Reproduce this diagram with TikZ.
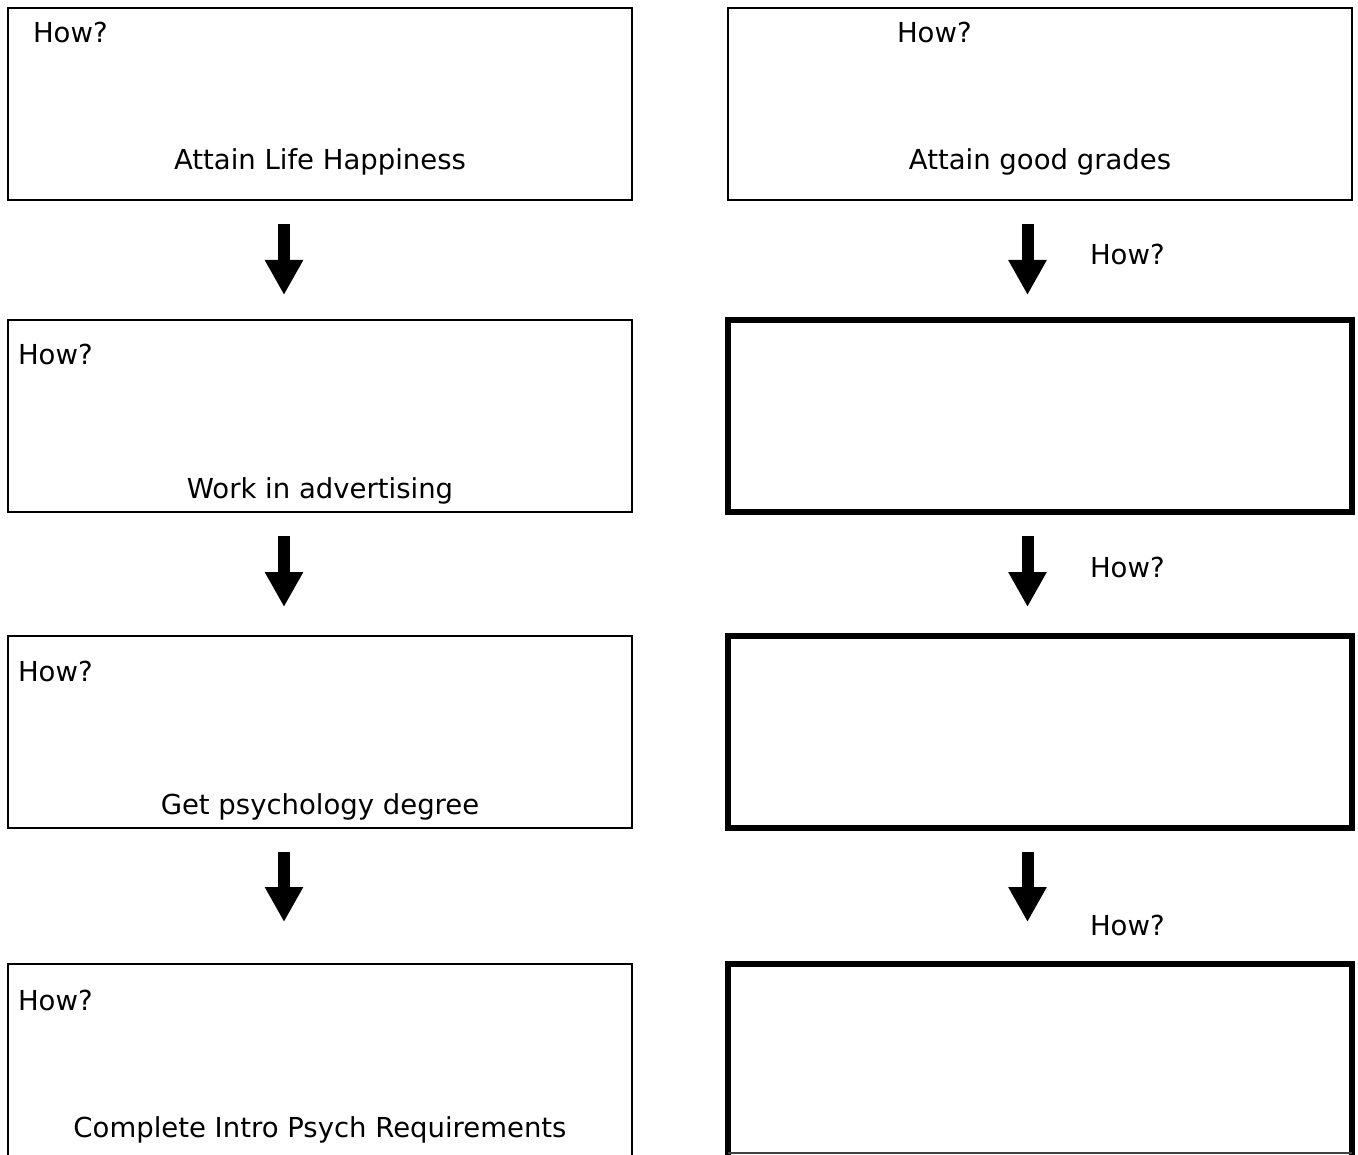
\documentclass[tikz,border=0pt]{standalone}
\usepackage{fontspec}
\setmainfont{DejaVu Sans}
\usetikzlibrary{arrows.meta,calc}
\tikzset{
  thinbox/.style={draw, line width=2pt, minimum width=624pt, minimum height=192pt, inner sep=0pt, outer sep=0pt},
  thickbox/.style={draw, line width=6pt, line join=miter, minimum width=624pt, minimum height=192pt, inner sep=0pt, outer sep=0pt},
  openbox/.style={minimum width=624pt, inner sep=0pt, outer sep=0pt},
  txt/.style={inner sep=0pt, outer sep=0pt, font=\fontsize{27.5}{32}\selectfont},
  howlbl/.style={txt, anchor=base west},
  goal/.style={txt, anchor=base},
  downarrow/.style={line width=12pt, -{Triangle[width=36pt,length=35pt]}}
}
\begin{document}
\begin{tikzpicture}[x=1pt,y=-1pt]
\useasboundingbox[fill=white] (0,0) rectangle (1358,1155);

% left column
\node[thinbox] (L1) at (320,104) {};
\node[thinbox] (L2) at (320,416) {};
\node[thinbox] (L3) at (320,732) {};
\node[openbox, minimum height=192pt] (L4) at (320,1060) {};
\draw[line width=2pt] (L4.south west) -- (L4.north west) -- (L4.north east) -- (L4.south east);

% right column
\node[thinbox] (R1) at (1040,104) {};
\node[thickbox] (R2) at (1040,416) {};
\node[thickbox] (R3) at (1040,732) {};
\node[openbox, minimum height=189pt] (R4) at (1040,1058.5) {};
\draw[line width=6pt, line join=miter] ($(R4.south west)+(0,2)$) -- (R4.north west) -- (R4.north east) -- ($(R4.south east)+(0,2)$);
\draw[line width=2pt, black!75] (R4.south west) -- (R4.south east);

% texts left
\node[howlbl] (hL1) at (33,43) {How?};
\node[goal] (gL1) at (320,170) {Attain Life Happiness};
\node[howlbl] (hL2) at (18,365) {How?};
\node[goal] (gL2) at (320,498) {Work in advertising};
\node[howlbl] (hL3) at (18,681) {How?};
\node[goal] (gL3) at (320,814) {Get psychology degree};
\node[howlbl] (hL4) at (18,1010) {How?};
\node[goal] (gL4) at (320,1137) {Complete Intro Psych Requirements};

% texts right
\node[howlbl] (hR1) at (897,43) {How?};
\node[goal] (gR1) at (1040,170) {Attain good grades};
\node[howlbl] (hR2) at (1090,265) {How?};
\node[howlbl] (hR3) at (1090,577) {How?};
\node[howlbl] (hR4) at (1090,935) {How?};

% arrows
\draw[downarrow] ($(L1.south)+(-36,24)$) -- ($(L2.north)+(-36,-25)$);
\draw[downarrow] ($(L2.south)+(-36,24)$) -- ($(L3.north)+(-36,-29)$);
\draw[downarrow] ($(L3.south)+(-36,24)$) -- ($(L4.north)+(-36,-42)$);
\draw[downarrow] ($(R1.south)+(-12.5,24)$) -- ($(R2.north)+(-12.5,-25)$);
\draw[downarrow] ($(R2.south)+(-12.5,24)$) -- ($(R3.north)+(-12.5,-29)$);
\draw[downarrow] ($(R3.south)+(-12.5,24)$) -- ($(R4.north)+(-12.5,-42)$);
\end{tikzpicture}
\end{document}
